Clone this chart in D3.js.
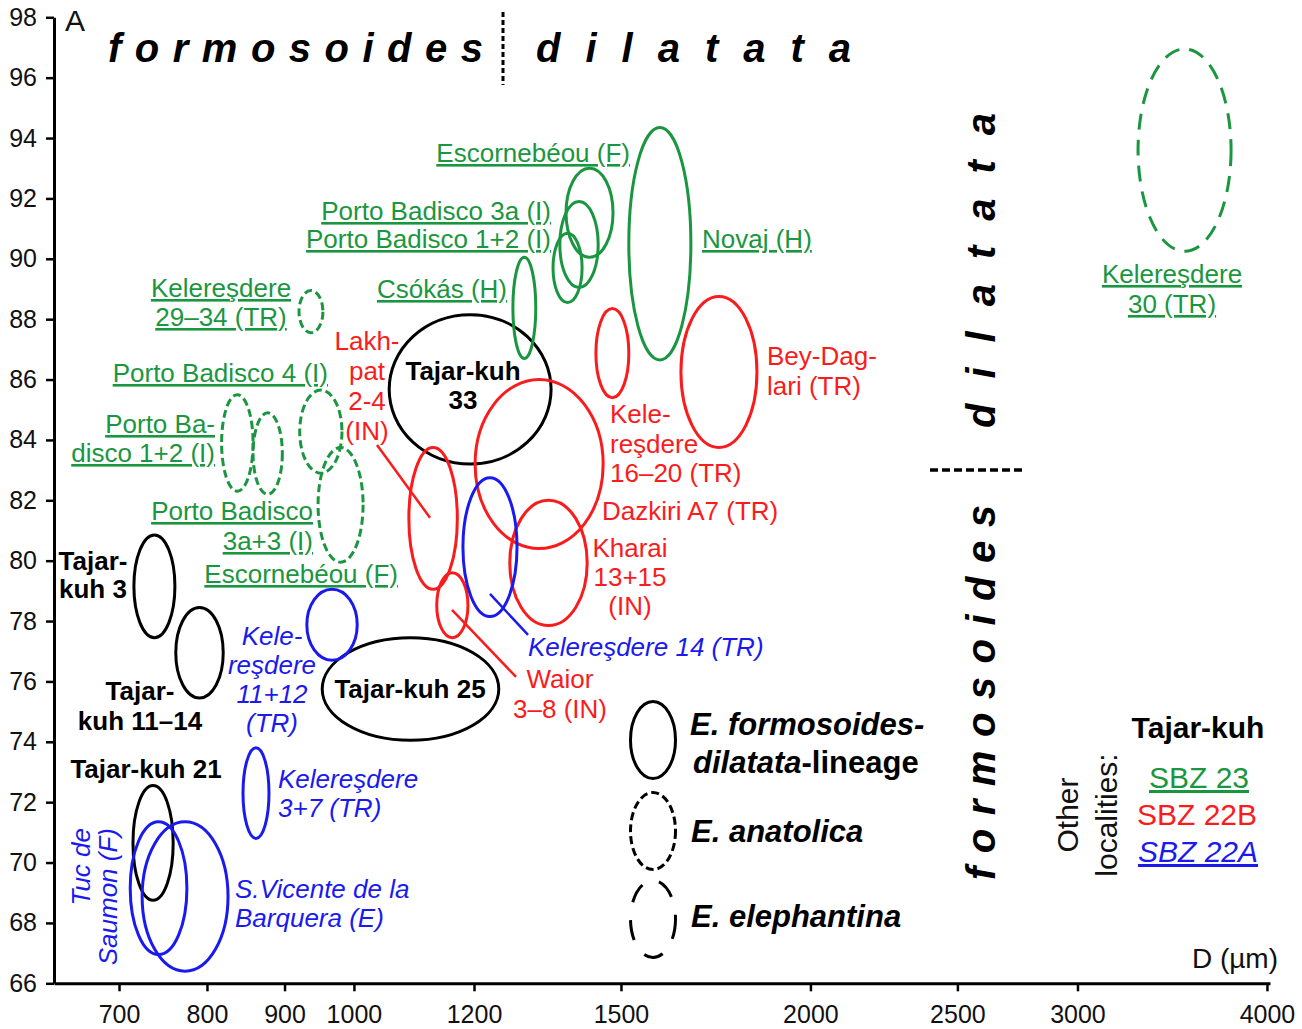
<!DOCTYPE html>
<html>
<head>
<meta charset="utf-8">
<script src="https://cdn.jsdelivr.net/npm/d3@7"></script>
<style>
  body { margin: 0; background: #fff; }
  text { font-family: "Liberation Sans", Arial, Helvetica, sans-serif; }
</style>
</head>
<body>
<svg id="chart" width="1302" height="1029"></svg>
<script>
// ---- Data: population ranges of D (µm, log axis) and A (%) ----
const populations = [
  "Tajar-kuh 33", "Tajar-kuh 3", "Tajar-kuh 11–14", "Tajar-kuh 25", "Tajar-kuh 21",
  "Novaj (H)", "Escornebéou (F)", "Porto Badisco 3a (I)", "Porto Badisco 1+2 (I)", "Csókás (H)",
  "Kelereşdere 29–34 (TR)", "Porto Badisco 4 (I)", "Porto Badisco 1 (I)", "Porto Badisco 2 (I)",
  "Porto Badisco 3a+3 (I)", "Kelereşdere 30 (TR)",
  "Lakhpat 2-4 (IN)", "Kelereşdere 16–20 (TR)", "Dazkiri A7 (TR)", "Bey-Daglari (TR)",
  "Kharai 13+15 (IN)", "Waior 3–8 (IN)",
  "Kelereşdere 14 (TR)", "Kelereşdere 11+12 (TR)", "Kelereşdere 3+7 (TR)",
  "Tuc de Saumon (F)", "S.Vicente de la Barquera (E)"
];
const lineage = [
  "fd", "fd", "fd", "fd", "fd",
  "fd", "fd", "fd", "fd", "fd",
  "ana", "ana", "ana", "ana",
  "ana", "ele",
  "fd", "fd", "fd", "fd",
  "fd", "fd",
  "fd", "fd", "fd",
  "fd", "fd"
];
const zone = [
  "TK", "TK", "TK", "TK", "TK",
  "SBZ23", "SBZ23", "SBZ23", "SBZ23", "SBZ23",
  "SBZ23", "SBZ23", "SBZ23", "SBZ23",
  "SBZ23", "SBZ23",
  "SBZ22B", "SBZ22B", "SBZ22B", "SBZ22B",
  "SBZ22B", "SBZ22B",
  "SBZ22A", "SBZ22A", "SBZ22A",
  "SBZ22A", "SBZ22A"
];
const dMin = [1055, 716, 763, 953, 715,  1518, 1380, 1367, 1353, 1273,  920, 921, 818, 858,  947, 3289,  1087, 1202, 1444, 1643,  1267, 1134,  1180, 931, 845,  712, 725];
const dMax = [1349, 762, 820, 1246, 760, 1668, 1482, 1449, 1414, 1318,  954, 982, 858, 897,  1014, 3788, 1170, 1460, 1518, 1844,  1425, 1189,  1281, 1005, 879, 776, 826];
const aMin = [83.2, 77.45, 75.45, 74.05, 68.75,  86.65, 90.05, 89.05, 88.55, 86.7,  87.55, 82.9, 82.3, 82.2,  79.95, 90.25,  79.05, 80.4, 85.4, 83.75,  77.85, 77.45,  78.15, 76.7, 70.8,  66.95, 66.4];
const aMax = [88.15, 80.85, 78.45, 77.45, 72.55, 94.35, 93.0, 91.9, 90.85, 90.05,  88.95, 85.65, 85.5, 84.9,  83.75, 96.95,  83.75, 86.0, 88.35, 88.75,  82.0, 79.6,  82.75, 79.05, 73.8,  71.35, 71.35];

// Leader lines from labels to their ranges (D, A endpoints)
const leaderZone = ["SBZ22B", "SBZ22A", "SBZ22B"];
const leaderD1 = [1035.7, 1229.5, 1160.6];
const leaderA1 = [83.83, 78.90, 78.37];
const leaderD2 = [1122.5, 1302.6, 1279.1];
const leaderA2 = [81.42, 77.54, 76.15];

// Axis ticks
const xTicks = [700, 800, 900, 1000, 1200, 1500, 2000, 2500, 3000, 4000];
const yTicks = [66, 68, 70, 72, 74, 76, 78, 80, 82, 84, 86, 88, 90, 92, 94, 96, 98];

// ---- Styling ----
const zoneColor = { TK: "#000000", SBZ23: "#1b9640", SBZ22B: "#fa1c1c", SBZ22A: "#1a1aee" };
const dashOf = { fd: null, ana: "8,4", ele: "16,10" };

const svg = d3.select("#chart");
svg.append("rect").attr("width", 1302).attr("height", 1029).attr("fill", "#fff");

const x = d3.scaleLog().domain([634.2, 4018.6]).range([54, 1270]);
const y = d3.scaleLinear().domain([66, 98]).range([983.3, 17.3]);

// ---- Ranges as ellipses ----
const rows = populations.map((name, i) => ({
  name, lin: lineage[i], zone: zone[i],
  d0: dMin[i], d1: dMax[i], a0: aMin[i], a1: aMax[i]
}));

svg.append("g").attr("class", "ranges")
  .selectAll("ellipse").data(rows).join("ellipse")
  .attr("cx", d => (x(d.d0) + x(d.d1)) / 2)
  .attr("cy", d => (y(d.a0) + y(d.a1)) / 2)
  .attr("rx", d => (x(d.d1) - x(d.d0)) / 2)
  .attr("ry", d => (y(d.a0) - y(d.a1)) / 2)
  .attr("fill", "none")
  .attr("stroke", d => zoneColor[d.zone])
  .attr("stroke-width", 3)
  .attr("stroke-dasharray", d => dashOf[d.lin]);

svg.append("g").attr("class", "leaders")
  .selectAll("line").data(leaderZone).join("line")
  .attr("x1", (z, i) => x(leaderD1[i])).attr("y1", (z, i) => y(leaderA1[i]))
  .attr("x2", (z, i) => x(leaderD2[i])).attr("y2", (z, i) => y(leaderA2[i]))
  .attr("stroke", z => zoneColor[z]).attr("stroke-width", 2.5);

// ---- Axes ----
const gx = svg.append("g")
  .attr("transform", `translate(0,${y(66)})`)
  .call(d3.axisBottom(x).tickValues(xTicks).tickFormat(d3.format("d"))
    .tickSize(8).tickSizeOuter(0).tickPadding(14));
const gy = svg.append("g")
  .attr("transform", `translate(${x(634.2)},0)`)
  .call(d3.axisLeft(y).tickValues(yTicks).tickFormat(d3.format("d"))
    .tickSize(8).tickSizeOuter(0).tickPadding(9));
[gx, gy].forEach(g => {
  g.select(".domain").attr("stroke", "#000").attr("stroke-width", 3);
  g.selectAll(".tick line").attr("stroke", "#000").attr("stroke-width", 2.5);
  g.selectAll(".tick text").attr("fill", "#111").style("font-size", "25px")
    .style("font-family", "'Liberation Sans', Arial, sans-serif");
});

svg.append("text").attr("x", 1278).attr("y", 968).attr("text-anchor", "end")
  .style("font-size", "28px").attr("fill", "#111").text("D (µm)");
svg.append("text").attr("x", 65).attr("y", 31)
  .style("font-size", "30px").attr("fill", "#111").text("A");

// ---- Population labels ----
const labelStyle = {
  g: { fill: zoneColor.SBZ23, deco: "underline", style: "normal", weight: "normal" },
  r: { fill: zoneColor.SBZ22B, deco: "none", style: "normal", weight: "normal" },
  b: { fill: zoneColor.SBZ22A, deco: "none", style: "italic", weight: "normal" },
  k: { fill: "#000", deco: "none", style: "normal", weight: "bold" }
};
const labels = [
  { t: ["Escornebéou (F)"], x: 630, y: 162, a: "end", c: "g" },
  { t: ["Porto Badisco 3a (I)"], x: 551, y: 220, a: "end", c: "g" },
  { t: ["Porto Badisco 1+2 (I)"], x: 551, y: 248, a: "end", c: "g" },
  { t: ["Csókás (H)"], x: 507, y: 298, a: "end", c: "g" },
  { t: ["Novaj (H)"], x: 702, y: 248, a: "start", c: "g" },
  { t: ["Kelereşdere", "29–34 (TR)"], x: 221, y: 297, a: "middle", c: "g", lh: 29 },
  { t: ["Porto Badisco 4 (I)"], x: 328, y: 382, a: "end", c: "g" },
  { t: ["Porto Ba-", "disco 1+2 (I)"], x: 215, y: 433, a: "end", c: "g", lh: 29 },
  { t: ["Porto Badisco", "3a+3 (I)"], x: 313, y: 520, a: "end", c: "g", lh: 30 },
  { t: ["Escornebéou (F)"], x: 398, y: 583, a: "end", c: "g" },
  { t: ["Kelereşdere", "30 (TR)"], x: 1172, y: 283, a: "middle", c: "g", lh: 30 },
  { t: ["Tajar-kuh", "33"], x: 463, y: 380, a: "middle", c: "k", lh: 29 },
  { t: ["Tajar-", "kuh 3"], x: 93, y: 570, a: "middle", c: "k", lh: 28 },
  { t: ["Tajar-", "kuh 11–14"], x: 140, y: 700, a: "middle", c: "k", lh: 30 },
  { t: ["Tajar-kuh 25"], x: 410, y: 698, a: "middle", c: "k" },
  { t: ["Tajar-kuh 21"], x: 146, y: 778, a: "middle", c: "k" },
  { t: ["Lakh-", "pat", "2-4", "(IN)"], x: 367, y: 350, a: "middle", c: "r", lh: 30 },
  { t: ["Bey-Dag-", "lari (TR)"], x: 767, y: 365, a: "start", c: "r", lh: 30 },
  { t: ["Kele-", "reşdere", "16–20 (TR)"], x: 610, y: 423, a: "start", c: "r", lh: 29.5 },
  { t: ["Dazkiri A7 (TR)"], x: 602, y: 520, a: "start", c: "r" },
  { t: ["Kharai", "13+15", "(IN)"], x: 630, y: 557, a: "middle", c: "r", lh: 29 },
  { t: ["Waior", "3–8 (IN)"], x: 560, y: 688, a: "middle", c: "r", lh: 30 },
  { t: ["Kelereşdere 14 (TR)"], x: 528, y: 656, a: "start", c: "b" },
  { t: ["Kele-", "reşdere", "11+12", "(TR)"], x: 272, y: 645, a: "middle", c: "b", lh: 29 },
  { t: ["Kelereşdere", "3+7 (TR)"], x: 278, y: 788, a: "start", c: "b", lh: 29 },
  { t: ["S.Vicente de la", "Barquera (E)"], x: 235, y: 898, a: "start", c: "b", lh: 29 }
];
const gl = svg.append("g").attr("class", "labels");
labels.forEach(L => {
  const s = labelStyle[L.c];
  const t = gl.append("text")
    .attr("x", L.x).attr("y", L.y).attr("text-anchor", L.a)
    .attr("fill", s.fill).style("font-size", "26px")
    .style("font-style", s.style).style("font-weight", s.weight);
  L.t.forEach((line, i) => {
    t.append("tspan").attr("x", L.x).attr("y", L.y + i * (L.lh || 0))
      .style("text-decoration", s.deco).text(line);
  });
});
// rotated label for Tuc de Saumon
[["Tuc de", 90], ["Saumon (F)", 117]].forEach(([s, bx]) => {
  svg.append("text").attr("transform", `translate(${bx},828) rotate(-90)`)
    .attr("text-anchor", "end").attr("fill", zoneColor.SBZ22A)
    .style("font-size", "26px").style("font-style", "italic").text(s);
});

// ---- Group boundary annotations ----
const big = (sel) => sel.attr("fill", "#000").style("font-size", "40px")
  .style("font-weight", "bold").style("font-style", "italic");
big(svg.append("text").attr("x", 108).attr("y", 62).attr("letter-spacing", 13.5)).text("formosoides");
big(svg.append("text").attr("x", 536).attr("y", 62).attr("letter-spacing", 25)).text("dilatata");
svg.append("line").attr("x1", 503).attr("x2", 503).attr("y1", 12).attr("y2", 85)
  .attr("stroke", "#000").attr("stroke-width", 3).attr("stroke-dasharray", "5,3");

big(svg.append("text").attr("transform", "translate(995,880) rotate(-90)").attr("letter-spacing", 13.5)).text("formosoides");
big(svg.append("text").attr("transform", "translate(995,428) rotate(-90)").attr("letter-spacing", 25)).text("dilatata");
svg.append("line").attr("x1", 930).attr("x2", 1024).attr("y1", 470).attr("y2", 470)
  .attr("stroke", "#000").attr("stroke-width", 3.5).attr("stroke-dasharray", "8,4");

// ---- Legend: line style = species ----
const legendLin = ["fd", "ana", "ele"];
const legDash = { fd: null, ana: "8,4", ele: "20,18" };
const legY = [740, 831, 919];
const lg = svg.append("g").attr("class", "legend");
legendLin.forEach((l, i) => {
  lg.append("ellipse").attr("cx", 653).attr("cy", legY[i]).attr("rx", 22.5).attr("ry", 38.5)
    .attr("fill", "none").attr("stroke", "#000").attr("stroke-width", 3)
    .attr("stroke-dasharray", legDash[l]);
});
const lt = (x0, y0) => lg.append("text").attr("x", x0).attr("y", y0).attr("fill", "#000")
  .style("font-size", "31px").style("font-weight", "bold").style("font-style", "italic");
lt(690, 735).text("E. formosoides-");
const l2 = lt(693, 773);
l2.append("tspan").text("dilatata");
l2.append("tspan").style("font-style", "normal").text("-lineage");
lt(691, 842).text("E. anatolica");
lt(691, 927).text("E. elephantina");

// ---- Legend: colour = locality / biozone ----
svg.append("text").attr("x", 1198).attr("y", 738).attr("text-anchor", "middle")
  .style("font-size", "30px").style("font-weight", "bold").text("Tajar-kuh");
svg.append("text").attr("x", 1199).attr("y", 788).attr("text-anchor", "middle")
  .attr("fill", zoneColor.SBZ23).style("font-size", "30px").style("text-decoration", "underline").text("SBZ 23");
svg.append("text").attr("x", 1197).attr("y", 825).attr("text-anchor", "middle")
  .attr("fill", zoneColor.SBZ22B).style("font-size", "30px").text("SBZ 22B");
svg.append("text").attr("x", 1198).attr("y", 862).attr("text-anchor", "middle")
  .attr("fill", zoneColor.SBZ22A).style("font-size", "30px").style("font-style", "italic")
  .style("text-decoration", "underline").text("SBZ 22A");
[["Other", 1078], ["localities:", 1117]].forEach(([s, bx]) => {
  svg.append("text").attr("transform", `translate(${bx},815) rotate(-90)`)
    .attr("text-anchor", "middle").attr("fill", "#111").style("font-size", "30px").text(s);
});
</script>
</body>
</html>
